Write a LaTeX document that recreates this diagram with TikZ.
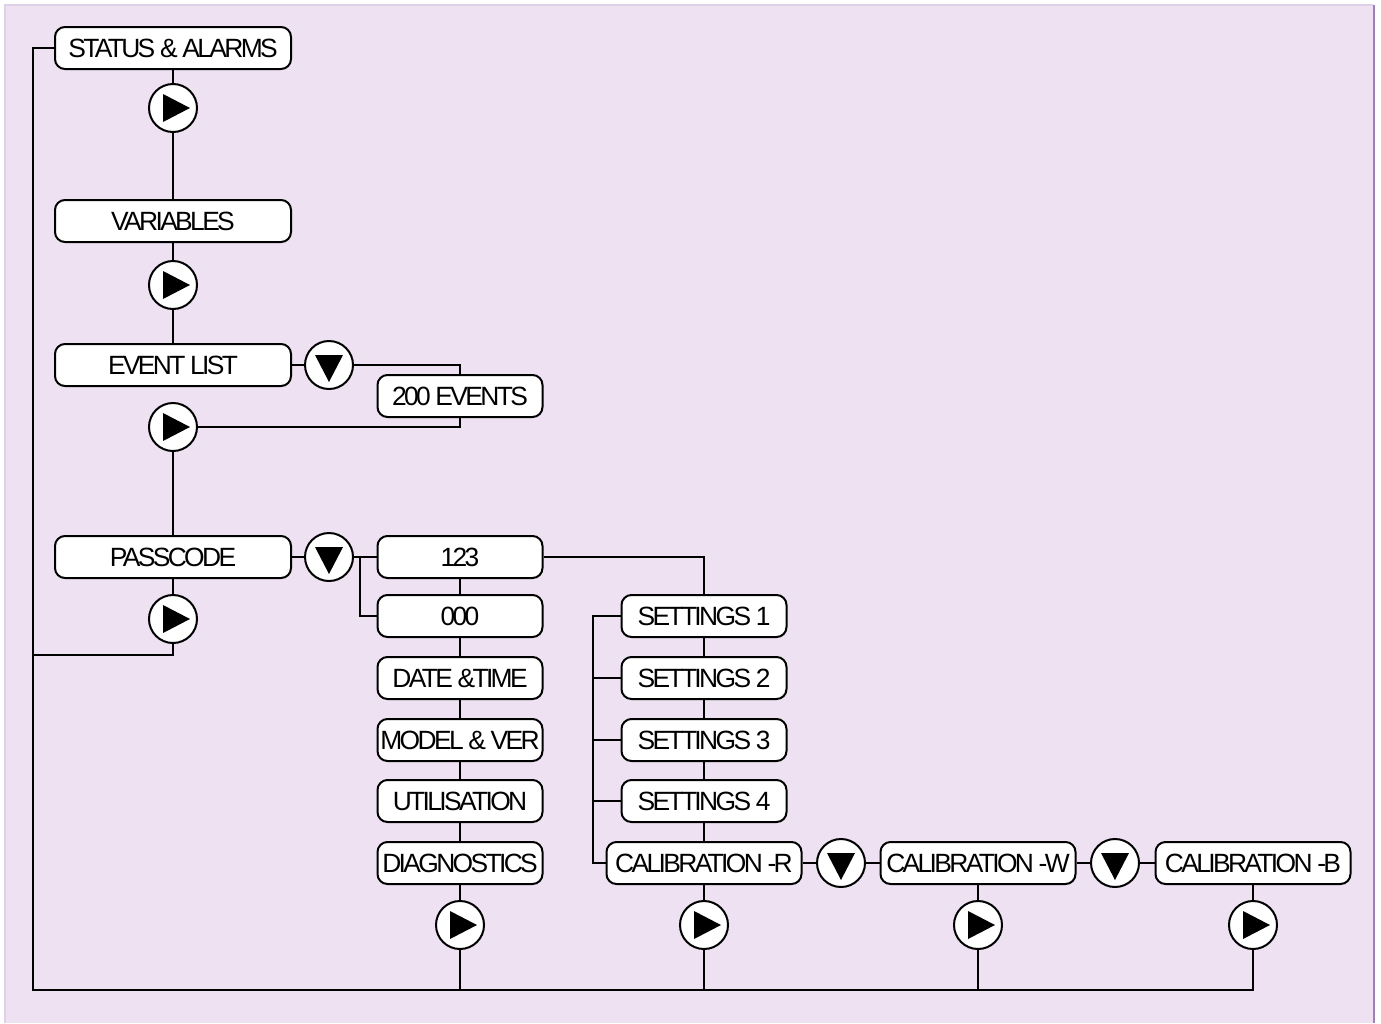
\documentclass[tikz,border=0pt]{standalone}
\usepackage{fontspec}
\setmainfont{Liberation Sans}[LetterSpace=-10]
\definecolor{bgpurple}{RGB}{237,225,242}
\definecolor{edgepurple}{RGB}{160,128,182}
\definecolor{rimpurple}{RGB}{222,208,230}

\begin{document}
\begin{tikzpicture}[x=0.5pt,y=-0.5pt,
  menu/.style={draw,fill=white,line width=1pt,rounded corners=5pt,minimum height=21pt,inner sep=0pt,font=\fontsize{13.2}{15}\selectfont},
  mainbox/.style={menu,minimum width=118pt},
  subbox/.style={menu,minimum width=82.5pt},
  calbox/.style={menu,minimum width=97.5pt},
  btn/.style={circle,draw,fill=white,line width=1pt,minimum size=24pt,inner sep=0pt},
  nextbtn/.style={btn,path picture={\fill[black] ([shift={(-10,-14)}]path picture bounding box.center) -- ([shift={(-10,14)}]path picture bounding box.center) -- ([shift={(17,0)}]path picture bounding box.center) -- cycle;}},
  downbtn/.style={btn,path picture={\fill[black] ([shift={(-14,-10)}]path picture bounding box.center) -- ([shift={(14,-10)}]path picture bounding box.center) -- ([shift={(0,17)}]path picture bounding box.center) -- cycle;}},
  wire/.style={line width=1pt}]
\useasboundingbox (0,0) rectangle (1381,1023);
% page
\fill[bgpurple] (5,5) rectangle (1373,1023);
\draw[rimpurple,line width=0.6pt] (5,1023) -- (5,5) -- (1373,5);
\draw[edgepurple,line width=1.2pt] (1374,5) -- (1374,1023);

% main column
\node[mainbox] (status) at (173,48) {STATUS \& ALARMS};
\node[nextbtn] (b1) at (173,108) {};
\node[mainbox] (vars) at (173,221) {VARIABLES};
\node[nextbtn] (b2) at (173,285) {};
\node[mainbox] (events) at (173,365) {EVENT LIST};
\node[downbtn] (d1) at (329,365) {};
\node[subbox] (e200) at (460,396) {200 EVENTS};
\node[nextbtn] (b3) at (173,427) {};
\node[mainbox] (pass) at (173,557) {PASSCODE};
\node[downbtn] (d2) at (329,557) {};
\node[nextbtn] (b4) at (173,619) {};

% passcode entries
\node[subbox] (p123) at (460,557) {123};
\node[subbox] (p000) at (460,616) {000};
\node[subbox] (date) at (460,678) {DATE \&TIME};
\node[subbox] (model) at (460,740) {MODEL \& VER};
\node[subbox] (util) at (460,801) {UTILISATION};
\node[subbox] (diag) at (460,863) {DIAGNOSTICS};
\node[nextbtn] (b5) at (460,925) {};

% settings
\foreach \i/\y in {1/616,2/678,3/740,4/801}
  \node[subbox] (set\i) at (704,\y) {SETTINGS \i};
\node[calbox] (calr) at (704,863) {CALIBRATION -R};
\node[downbtn] (d3) at (841,863) {};
\node[calbox] (calw) at (978,863) {CALIBRATION -W};
\node[downbtn] (d4) at (1115,863) {};
\node[calbox] (calb) at (1253,863) {CALIBRATION -B};
\node[nextbtn] (b6) at (704,925) {};
\node[nextbtn] (b7) at (978,925) {};
\node[nextbtn] (b8) at (1253,925) {};

\coordinate (bus) at (33,990);
\coordinate (passret) at (173,655);
\coordinate (fork) at (360,557);
\coordinate (srail) at (593,616);

% links
\draw[wire] (status) -- (b1) -- (vars) -- (b2) -- (events) -- (d1);
\draw[wire] (d1) -- (d1 -| e200) -- (e200);
\draw[wire] (e200) -- (e200 |- b3) -- (b3);
\draw[wire] (b3) -- (pass) -- (b4);
\draw[wire] (pass) -- (d2) -- (p123);
\draw[wire] (fork) |- (p000.west);
\draw[wire] (p123) -- (p000) -- (date) -- (model) -- (util) -- (diag) -- (b5);
\draw[wire] (p123) -| (set1);
\draw[wire] (set1) -- (set2) -- (set3) -- (set4) -- (calr) -- (b6);
\draw[wire] (set1.west) -- (set1.west -| srail) |- (calr.west);
\foreach \i in {2,3,4}
  \draw[wire] (set\i.west) -- (set\i.west -| srail);
\draw[wire] (calr) -- (d3) -- (calw) -- (d4) -- (calb);
\draw[wire] (calw) -- (b7);
\draw[wire] (calb) -- (b8);

% return paths
\draw[wire] (status.west) -- (status.west -| bus) -- (bus) -| (b8.south);
\draw[wire] (b4.south) -- (passret) -- (passret -| bus);
\foreach \b in {b5,b6,b7}
  \draw[wire] (\b.south) -- (\b.south |- bus);
\end{tikzpicture}
\end{document}
